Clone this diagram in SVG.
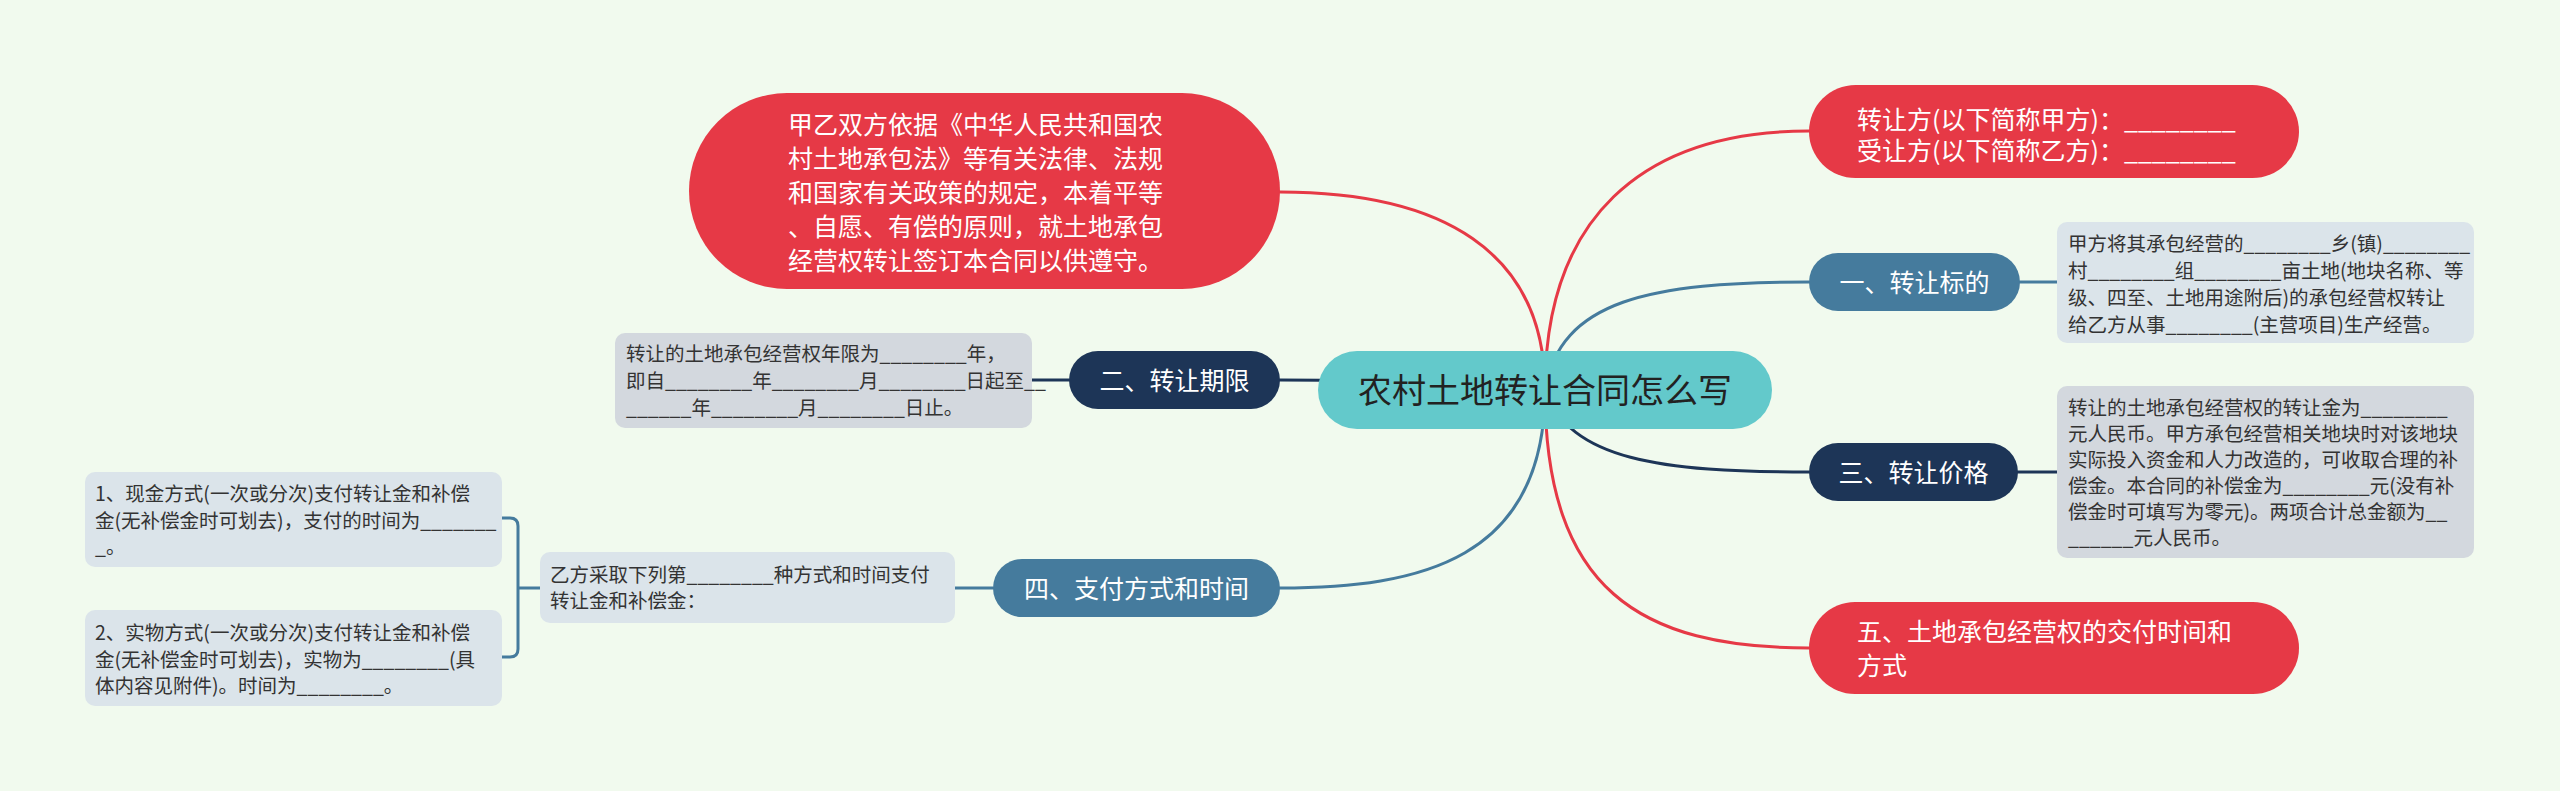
<svg xmlns="http://www.w3.org/2000/svg" width="2560" height="791" viewBox="0 0 2560 791">
<style>
text{font-family:"Noto Sans CJK SC","Noto Sans",sans-serif}
.t25{font-size:25px;fill:#ffffff}
.leaf{font-size:19.5px;fill:#333333}
.red{fill:#e63946}
.blue{fill:#457b9d}
.navy{fill:#1d3557}
.lb{fill:#dbe4ea}
.lg{fill:#d3d8de}
.c{fill:none;stroke-width:3;stroke-linecap:round}
.cr{stroke:#e63946}
.cb{stroke:#457b9d}
.cn{stroke:#1d3557}
</style>
<rect width="2560" height="791" fill="#f1faee"/>
<g id="connectors">
<path class="c cr" d="M1545,390 C1545,250 1440,192 1280,192"/>
<path class="c cr" d="M1545,390 C1545,220 1640,131 1809,131"/>
<path class="c cb" d="M1545,390 C1560,300 1650,282 1809,282"/>
<path class="c cn" d="M1545,390 C1570,460 1660,472 1809,472"/>
<path class="c cr" d="M1545,390 C1545,590 1640,648 1809,648"/>
<path class="c cb" d="M1545,390 C1545,560 1420,588 1280,588"/>
<path class="c cn" d="M1280,380 C1400,380 1500,385 1545,390"/>
<path class="c cn" d="M1032,380 L1069,380"/>
<path class="c cb" d="M2020,282 L2057,282"/>
<path class="c cn" d="M2018,472 L2057,472"/>
<path class="c cb" d="M955,588 L993,588"/>
<path class="c cb" d="M502,518 L510,518 Q518,518 518,526 L518,649 Q518,657 510,657 L502,657 M518,588 L540,588"/>
</g>
<g id="center">
<rect x="1318" y="351" width="454" height="78" rx="39" fill="#63c9cb"/>
<text x="1545" y="403" font-size="34" fill="#222222" text-anchor="middle">农村土地转让合同怎么写</text>
</g>
<g id="intro">
<rect class="red" x="689" y="93" width="591" height="196" rx="98"/>
<text class="t25" x="788"><tspan x="788" y="133.5">甲乙双方依据《中华人民共和国农</tspan><tspan x="788" y="167.5">村土地承包法》等有关法律、法规</tspan><tspan x="788" y="201.5">和国家有关政策的规定，本着平等</tspan><tspan x="788" y="235.5">、自愿、有偿的原则，就土地承包</tspan><tspan x="788" y="269.5">经营权转让签订本合同以供遵守。</tspan></text>
</g>
<g id="parties">
<rect class="red" x="1809" y="85" width="490" height="93" rx="46.5"/>
<text class="t25"><tspan x="1857" y="128.5">转让方(以下简称甲方)：________</tspan><tspan x="1857" y="159.5">受让方(以下简称乙方)：________</tspan></text>
</g>
<g id="n1">
<rect class="blue" x="1809" y="253" width="211" height="58" rx="29"/>
<text class="t25" x="1914.5" y="291.5" text-anchor="middle">一、转让标的</text>
</g>
<g id="n1-leaf">
<rect class="lb" x="2057" y="222" width="417" height="121" rx="10"/>
<text class="leaf"><tspan x="2068" y="251">甲方将其承包经营的________乡(镇)________</tspan><tspan x="2068" y="278">村________组________亩土地(地块名称、等</tspan><tspan x="2068" y="305">级、四至、土地用途附后)的承包经营权转让</tspan><tspan x="2068" y="332">给乙方从事________(主营项目)生产经营。</tspan></text>
</g>
<g id="n2">
<rect class="navy" x="1069" y="351" width="211" height="58" rx="29"/>
<text class="t25" x="1174.5" y="389.5" text-anchor="middle">二、转让期限</text>
</g>
<g id="n2-leaf">
<rect class="lg" x="615" y="333" width="417" height="95" rx="10"/>
<text class="leaf"><tspan x="626" y="360.5">转让的土地承包经营权年限为________年，</tspan><tspan x="626" y="387.5">即自________年________月________日起至__</tspan><tspan x="626" y="414.5">______年________月________日止。</tspan></text>
</g>
<g id="n3">
<rect class="navy" x="1809" y="443" width="209" height="58" rx="29"/>
<text class="t25" x="1913.5" y="481.5" text-anchor="middle">三、转让价格</text>
</g>
<g id="n3-leaf">
<rect class="lg" x="2057" y="386" width="417" height="172" rx="10"/>
<text class="leaf"><tspan x="2068" y="414.5">转让的土地承包经营权的转让金为________</tspan><tspan x="2068" y="440.5">元人民币。甲方承包经营相关地块时对该地块</tspan><tspan x="2068" y="466.5">实际投入资金和人力改造的，可收取合理的补</tspan><tspan x="2068" y="492.5">偿金。本合同的补偿金为________元(没有补</tspan><tspan x="2068" y="518.5">偿金时可填写为零元)。两项合计总金额为__</tspan><tspan x="2068" y="544.5">______元人民币。</tspan></text>
</g>
<g id="n4">
<rect class="blue" x="993" y="559" width="287" height="58" rx="29"/>
<text class="t25" x="1136.5" y="597.5" text-anchor="middle">四、支付方式和时间</text>
</g>
<g id="n4-leaf">
<rect class="lb" x="540" y="552" width="415" height="71" rx="10"/>
<text class="leaf"><tspan x="550" y="582">乙方采取下列第________种方式和时间支付</tspan><tspan x="550" y="608">转让金和补偿金：</tspan></text>
</g>
<g id="n4-opt1">
<rect class="lb" x="85" y="472" width="417" height="95" rx="10"/>
<text class="leaf"><tspan x="95" y="501">1、现金方式(一次或分次)支付转让金和补偿</tspan><tspan x="95" y="528">金(无补偿金时可划去)，支付的时间为_______</tspan><tspan x="95" y="554">_。</tspan></text>
</g>
<g id="n4-opt2">
<rect class="lb" x="85" y="610" width="417" height="96" rx="10"/>
<text class="leaf"><tspan x="95" y="640">2、实物方式(一次或分次)支付转让金和补偿</tspan><tspan x="95" y="666.5">金(无补偿金时可划去)，实物为________(具</tspan><tspan x="95" y="693">体内容见附件)。时间为________。</tspan></text>
</g>
<g id="n5">
<rect class="red" x="1809" y="602" width="490" height="92" rx="46"/>
<text class="t25"><tspan x="1857" y="641">五、土地承包经营权的交付时间和</tspan><tspan x="1857" y="675">方式</tspan></text>
</g>
</svg>
